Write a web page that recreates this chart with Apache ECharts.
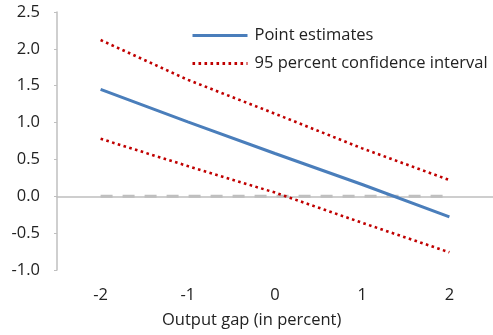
<!DOCTYPE html>
<html>
<head>
<meta charset="utf-8">
<script src="https://cdn.jsdelivr.net/npm/echarts@6/dist/echarts.min.js"></script>
<style>
  html, body { margin: 0; padding: 0; background: #ffffff; }
  #chart { width: 493px; height: 335px; }
</style>
</head>
<body>
<div id="chart"></div>
<script>
// Output gap values (in percent)
var outputGap = ['-2', '-1', '0', '1', '2'];
// Estimated effect with its 95 percent band
var pointEstimates = [1.45, 1.01, 0.58, 0.16, -0.28];
var upperBound = [2.12, 1.58, 1.12, 0.65, 0.22];
var lowerBound = [0.78, 0.41, 0.05, -0.36, -0.76];
var zeroLine = [0, 0, 0, 0, 0];
var yTicks = [-1.0, -0.5, 0.0, 0.5, 1.0, 1.5, 2.0, 2.5];

var FONT = '"Open Sans", sans-serif';
var FS = 16.5;
var chart = echarts.init(document.getElementById('chart'), null, { renderer: 'canvas' });

var redDots = { color: '#c00000', width: 2.6, type: [2.6, 3.4], cap: 'butt' };

chart.setOption({
  animation: false,
  backgroundColor: '#ffffff',
  grid: { left: 57, top: 12, width: 440, height: 258, containLabel: false },
  legend: {
    orient: 'vertical',
    left: 186,
    top: 22,
    itemWidth: 55,
    itemHeight: 10,
    itemGap: 11,
    itemStyle: { opacity: 0 },
    lineStyle: { width: 3 },
    textStyle: { fontFamily: FONT, fontSize: FS, color: '#222222', padding: [0, 0, 0, 2] },
    data: ['Point estimates', '95 percent confidence interval']
  },
  xAxis: {
    type: 'category',
    data: outputGap,
    boundaryGap: true,
    axisLine: { lineStyle: { color: '#bfbfbf', width: 1.5 } },
    axisTick: { inside: true, length: 5, lineStyle: { color: '#bfbfbf', width: 1 } },
    axisLabel: { margin: 17, fontFamily: FONT, fontSize: FS, color: '#222222' },
    splitLine: { show: false }
  },
  yAxis: {
    type: 'value',
    min: yTicks[0],
    max: yTicks[yTicks.length - 1],
    interval: 0.5,
    axisLine: { show: true, lineStyle: { color: '#bfbfbf', width: 1.5 } },
    axisTick: { show: true, inside: false, length: 3, lineStyle: { color: '#bfbfbf' } },
    axisLabel: {
      margin: 17,
      fontFamily: FONT,
      fontSize: FS,
      color: '#222222',
      formatter: function (v) { return v.toFixed(1); }
    },
    splitLine: { show: false }
  },
  graphic: [{
    type: 'text',
    left: 162,
    top: 312,
    style: { text: 'Output gap (in percent)', font: FS + 'px ' + FONT, fill: '#222222' }
  }],
  series: [
    {
      name: 'zero',
      type: 'line',
      data: zeroLine,
      symbol: 'none',
      silent: true,
      lineStyle: { color: '#bfbfbf', width: 3, type: [12, 10] },
      z: 1
    },
    {
      name: '95 percent confidence interval',
      type: 'line',
      data: upperBound,
      symbol: 'none',
      color: '#c00000',
      lineStyle: redDots,
      z: 2
    },
    {
      name: '95 percent confidence interval',
      type: 'line',
      data: lowerBound,
      symbol: 'none',
      color: '#c00000',
      lineStyle: redDots,
      z: 2
    },
    {
      name: 'Point estimates',
      type: 'line',
      data: pointEstimates,
      symbol: 'none',
      color: '#4a7ebb',
      lineStyle: { color: '#4a7ebb', width: 3 },
      z: 3
    }
  ]
});
</script>
</body>
</html>
